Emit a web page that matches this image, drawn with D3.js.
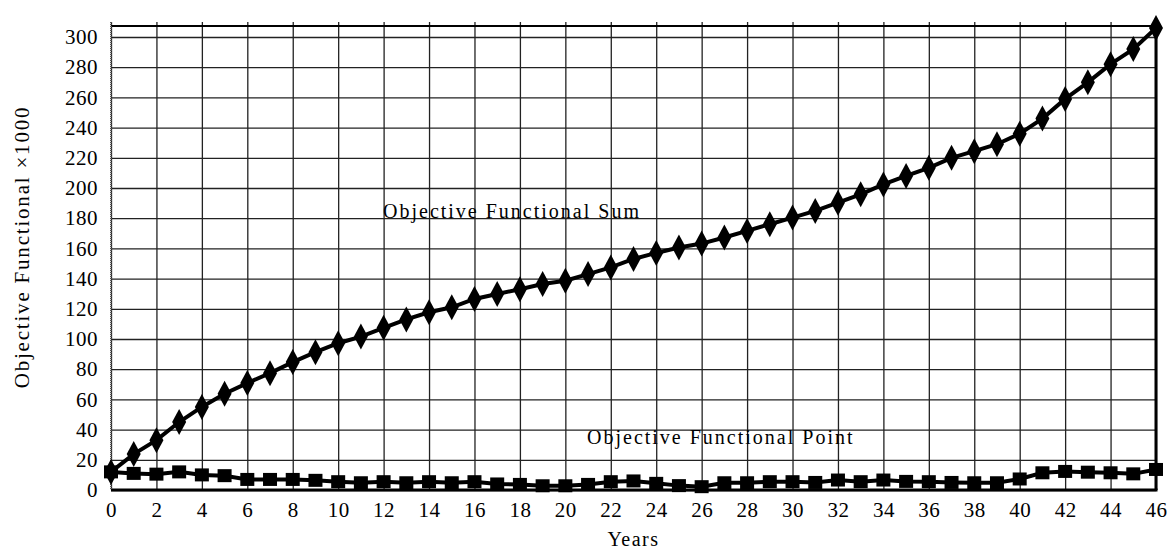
<!DOCTYPE html>
<html>
<head>
<meta charset="utf-8">
<script src="https://cdn.jsdelivr.net/npm/d3@7"></script>
<style>
  body { margin: 0; background: #fff; }
  svg text { font-family: "Liberation Serif", "DejaVu Serif", serif; fill: #000; }
  .domain { display: none; }
</style>
</head>
<body>
<div id="chart"></div>
<script>
// years on the x axis
const years = d3.range(0, 47);

// objective functional sum (x1000)
const sumValues = [
  12, 23.8, 33, 45, 55, 63.8, 70.8, 77.4, 84.7, 91.3,
  97.2, 101.6, 107.4, 113, 117.7, 121, 126.5, 129.8, 133, 136.4,
  138.6, 143, 147.4, 153, 157, 160.6, 163.2, 167.2, 171.6, 176,
  180.4, 184.8, 190.3, 195.8, 202.4, 208, 213.4, 220, 224.4, 229,
  236, 246, 259, 270, 282, 292, 306
];

// objective functional point (x1000)
const pointValues = [
  12, 11, 10.5, 12, 10, 9.5, 7, 7, 7, 6.4,
  5.5, 4.8, 5.5, 4.8, 5.5, 4.8, 5.5, 4, 3.7, 2.8,
  2.8, 3.7, 5.5, 6, 4.4, 2.9, 2.2, 4.8, 4.8, 5.5,
  5.5, 5, 6.6, 5.5, 6.6, 5.7, 5.5, 5, 4.8, 4.8,
  7.3, 11.4, 12.3, 11.8, 11.4, 10.7, 13.6
];

const xTicks = d3.range(0, 47, 2);
const yTicks = d3.range(0, 301, 20);

const width = 1168, height = 551;
const plot = { left: 111, right: 1156, top: 26, bottom: 490 };

const x = d3.scaleLinear().domain([0, 46]).range([plot.left, plot.right]);
const y = d3.scaleLinear().domain([0, 307.3]).range([plot.bottom, plot.top]);

const svg = d3.select('#chart').append('svg')
  .attr('width', width)
  .attr('height', height);

// gridlines first so the lines sit on top
svg.append('g')
  .attr('transform', 'translate(0,' + plot.bottom + ')')
  .call(d3.axisBottom(x).tickValues(xTicks).tickSize(-(plot.bottom - plot.top + 4)).tickFormat(''))
  .selectAll('.tick line').attr('stroke', '#222').attr('stroke-width', 1.3);

svg.append('g')
  .attr('transform', 'translate(' + plot.left + ',0)')
  .call(d3.axisLeft(y).tickValues(yTicks).tickSize(-(plot.right - plot.left)).tickFormat(''))
  .selectAll('.tick line').attr('stroke', '#222').attr('stroke-width', 1.3);

// frame
svg.append('line').attr('x1', plot.left).attr('x2', plot.right).attr('y1', plot.top).attr('y2', plot.top)
  .attr('stroke', '#000').attr('stroke-width', 2);
svg.append('line').attr('x1', plot.right).attr('x2', plot.right).attr('y1', plot.top).attr('y2', plot.bottom)
  .attr('stroke', '#000').attr('stroke-width', 3);
svg.append('line').attr('x1', plot.left).attr('x2', plot.right + 1.5).attr('y1', plot.bottom).attr('y2', plot.bottom)
  .attr('stroke', '#000').attr('stroke-width', 3);
svg.append('line').attr('x1', plot.left).attr('x2', plot.left).attr('y1', plot.top - 4).attr('y2', plot.bottom)
  .attr('stroke', '#555').attr('stroke-width', 2).attr('stroke-dasharray', '1,1');

// tick labels
const xAxis = svg.append('g')
  .attr('transform', 'translate(0,' + plot.bottom + ')')
  .call(d3.axisBottom(x).tickValues(xTicks).tickSize(0).tickPadding(12));
xAxis.selectAll('text').style('font-size', '21px').style('letter-spacing', '0.5px');

const yAxis = svg.append('g')
  .attr('transform', 'translate(' + plot.left + ',0)')
  .call(d3.axisLeft(y).tickValues(yTicks).tickSize(0).tickPadding(13));
yAxis.selectAll('text').style('font-size', '21px').style('letter-spacing', '0.5px');

// lines
const line = d3.line()
  .x((d, i) => x(years[i]))
  .y(d => y(d));

svg.append('path')
  .datum(sumValues)
  .attr('d', line)
  .attr('fill', 'none')
  .attr('stroke', '#000')
  .attr('stroke-width', 4);

svg.append('path')
  .datum(pointValues)
  .attr('d', line)
  .attr('fill', 'none')
  .attr('stroke', '#000')
  .attr('stroke-width', 4);

// markers
svg.append('g').selectAll('path')
  .data(sumValues)
  .join('path')
  .attr('transform', (d, i) => 'translate(' + x(years[i]) + ',' + y(d) + ')')
  .attr('d', 'M0,-13L7,0L0,13L-7,0Z')
  .attr('fill', '#000');

svg.append('g').selectAll('rect')
  .data(pointValues)
  .join('rect')
  .attr('x', (d, i) => x(years[i]) - 7)
  .attr('y', d => y(d) - 6.5)
  .attr('width', 14)
  .attr('height', 13)
  .attr('fill', '#000');

// series labels
svg.append('text')
  .attr('x', 383).attr('y', 218)
  .style('font-size', '20px')
  .style('letter-spacing', '2px')
  .text('Objective Functional Sum');

svg.append('text')
  .attr('x', 587).attr('y', 444)
  .style('font-size', '20px')
  .style('letter-spacing', '2px')
  .text('Objective Functional Point');

// axis titles
svg.append('text')
  .attr('x', (plot.left + plot.right) / 2).attr('y', 546)
  .attr('text-anchor', 'middle')
  .style('font-size', '20px')
  .style('letter-spacing', '1.5px')
  .text('Years');

svg.append('text')
  .attr('transform', 'translate(29,247) rotate(-90)')
  .attr('text-anchor', 'middle')
  .style('font-size', '21px')
  .style('letter-spacing', '1.8px')
  .text('Objective Functional ×1000');
</script>
</body>
</html>
